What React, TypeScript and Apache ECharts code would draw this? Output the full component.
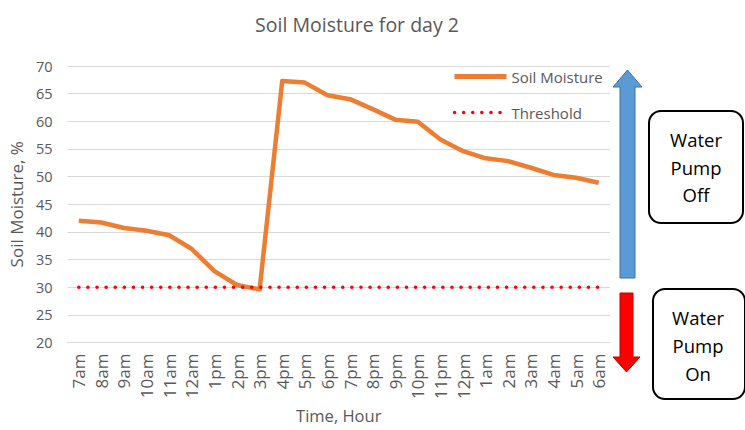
import React, { useEffect, useRef } from "react";
import * as echarts from "echarts";

const hours = ["7am","8am","9am","10am","11am","12am","1pm","2pm","3pm","4pm","5pm","6pm","7pm","8pm","9pm","10pm","11pm","12pm","1am","2am","3am","4am","5am","6am"];
const soilMoisture = [42.0,41.7,40.7,40.2,39.4,36.9,32.9,30.4,29.6,67.3,67.0,64.7,64.0,62.2,60.3,59.9,56.7,54.6,53.3,52.8,51.6,50.3,49.8,48.9];
const threshold = [30,30,30,30,30,30,30,30,30,30,30,30,30,30,30,30,30,30,30,30,30,30,30,30];
const yTicks = { min: 20, max: 70, interval: 5 };

const FONT = '"Open Sans", "Noto Sans", sans-serif';
const DOTS = [0.1, 9];

export default function App() {
  const ref = useRef<HTMLDivElement>(null);
  useEffect(() => {
    const chart = echarts.init(ref.current!, null, { renderer: "svg" });
    chart.setOption({
      animation: false,
      backgroundColor: "#ffffff",
      textStyle: { fontFamily: FONT },
      title: {
        text: "Soil Moisture for day 2",
        left: 352,
        textAlign: "center",
        top: 9,
        textStyle: { fontFamily: FONT, fontSize: 19.5, fontWeight: "normal", color: "#595959" },
      },
      grid: { left: 67, right: 135, top: 66, bottom: 87.5 },
      legend: {
        orient: "vertical",
        left: 447,
        top: 64,
        itemWidth: 52,
        itemHeight: 14,
        itemGap: 21,
        itemStyle: { opacity: 0 },
        textStyle: { fontFamily: FONT, fontSize: 15, color: "#595959" },
        data: [
          { name: "Soil Moisture", lineStyle: { width: 5, color: "#ed7d31" } },
          { name: "Threshold", lineStyle: { width: 3.5, color: "#ff0000", type: DOTS, cap: "round" } },
        ],
      },
      xAxis: {
        type: "category",
        data: hours,
        boundaryGap: true,
        name: "Time, Hour",
        nameLocation: "middle",
        nameGap: 63,
        nameTextStyle: { fontFamily: FONT, fontSize: 16.5, color: "#595959" },
        axisLine: { show: true, lineStyle: { color: "#d9d9d9" } },
        axisTick: { show: false },
        axisLabel: { rotate: 90, fontFamily: FONT, fontSize: 17, color: "#595959", margin: 11, interval: 0 },
      },
      yAxis: {
        type: "value",
        min: yTicks.min,
        max: yTicks.max,
        interval: yTicks.interval,
        name: "Soil Moisture, %",
        nameLocation: "middle",
        nameGap: 40,
        nameTextStyle: { fontFamily: FONT, fontSize: 17, color: "#595959" },
        axisLine: { show: false },
        axisTick: { show: false },
        axisLabel: { fontFamily: FONT, fontSize: 14.5, color: "#595959", margin: 15 },
        splitLine: { lineStyle: { color: "#d9d9d9", width: 1 } },
      },
      series: [
        {
          name: "Soil Moisture",
          type: "line",
          data: soilMoisture,
          symbol: "none",
          lineStyle: { color: "#ed7d31", width: 4.5, join: "round" },
          itemStyle: { color: "#ed7d31" },
          z: 3,
        },
        {
          name: "Threshold",
          type: "line",
          data: threshold,
          symbol: "none",
          lineStyle: { color: "#ff0000", width: 3.5, type: DOTS, cap: "round" },
          itemStyle: { color: "#ff0000" },
          z: 4,
        },
      ],
      graphic: [
        {
          type: "polygon",
          shape: { points: [[627.5, 70], [642, 87], [635, 87], [635, 278], [620, 278], [620, 87], [613, 87]] },
          style: { fill: "#5b9bd5", stroke: "#41719c", lineWidth: 1 },
        },
        {
          type: "polygon",
          shape: { points: [[620, 293], [633, 293], [633, 357], [640, 357], [626.5, 372], [613, 357], [620, 357]] },
          style: { fill: "#ff0000", stroke: "#c00000", lineWidth: 1 },
        },
        {
          type: "rect",
          shape: { x: 649, y: 111, width: 94, height: 112, r: 12 },
          style: { fill: "#ffffff", stroke: "#000000", lineWidth: 2 },
        },
        {
          type: "text",
          x: 696,
          y: 167,
          style: {
            text: "Water\nPump\nOff",
            fontFamily: FONT,
            fontSize: 18.5,
            lineHeight: 27.5,
            fill: "#000000",
            align: "center",
            verticalAlign: "middle",
          },
        },
        {
          type: "rect",
          shape: { x: 653, y: 289, width: 92, height: 110, r: 12 },
          style: { fill: "#ffffff", stroke: "#000000", lineWidth: 2 },
        },
        {
          type: "text",
          x: 698,
          y: 345,
          style: {
            text: "Water\nPump\nOn",
            fontFamily: FONT,
            fontSize: 18.5,
            lineHeight: 28,
            fill: "#000000",
            align: "center",
            verticalAlign: "middle",
          },
        },
      ],
    });
    return () => chart.dispose();
  }, []);
  return <div ref={ref} style={{ width: 745, height: 430, position: "fixed", left: 0, top: 0 }} />;
}
